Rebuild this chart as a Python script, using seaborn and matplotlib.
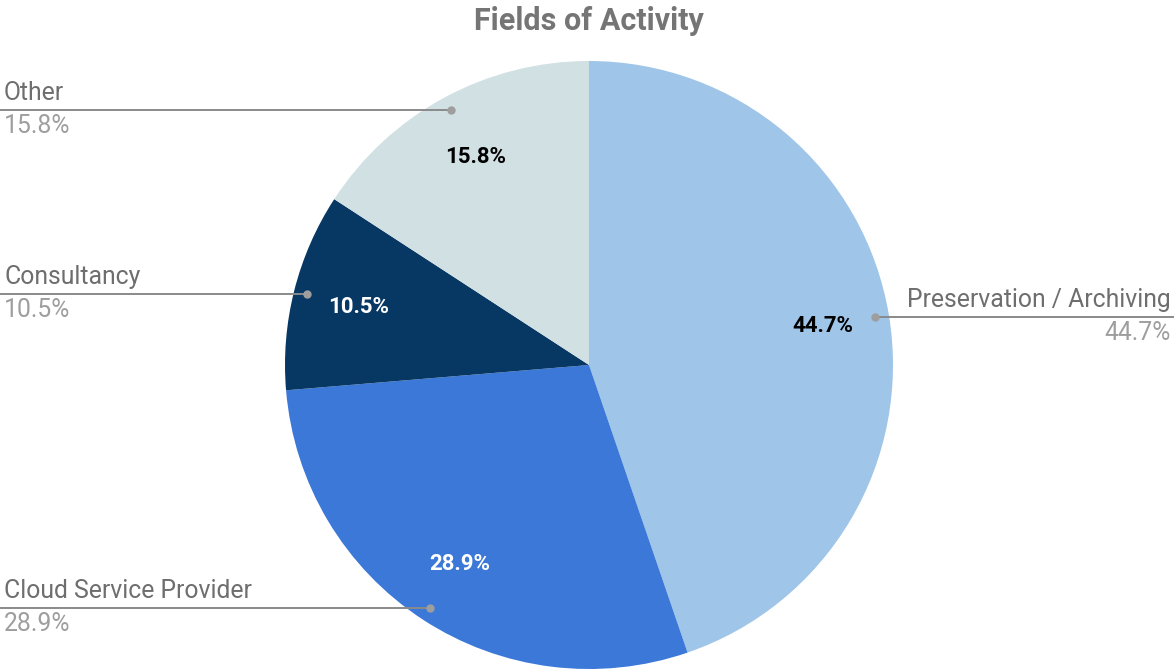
import numpy as np
import matplotlib
matplotlib.use("Agg")
import matplotlib.pyplot as plt
import seaborn as sns

# data
fields = ["Preservation / Archiving", "Cloud Service Provider", "Consultancy", "Other"]
shares = [44.7, 28.9, 10.5, 15.8]
colors = ["#9fc5e8", "#3c78d8", "#073763", "#d0e0e3"]
inner_text_colors = ["#000000", "#ffffff", "#ffffff", "#000000"]

sns.set_style("white")
plt.rcParams["font.family"] = ["Roboto", "DejaVu Sans"]

W, H = 1174, 670
fig = plt.figure(figsize=(W / 100, H / 100), dpi=100)
ax = fig.add_axes([0, 0, 1, 1])

cx, cy, R = 589, H - 365, 304
wedges, _ = ax.pie(shares, colors=colors, startangle=90, counterclock=False,
                   center=(cx, cy), radius=R, frame=True,
                   wedgeprops=dict(linewidth=0))
ax.set_xlim(0, W)
ax.set_ylim(0, H)
ax.set_aspect("equal")
ax.axis("off")

total = sum(shares)
for w, name, val, tc in zip(wedges, fields, shares, inner_text_colors):
    mid = np.deg2rad((w.theta1 + w.theta2) / 2)
    # percentage inside the slice
    ix, iy = cx + 0.78 * R * np.cos(mid), cy + 0.78 * R * np.sin(mid)
    ax.text(ix, iy, f"{val / total * 100:.1f}%", ha="center", va="center",
            fontsize=16, fontweight="bold", color=tc)
    # leader dot and line out to the figure edge
    dx, dy = cx + 0.955 * R * np.cos(mid), cy + 0.955 * R * np.sin(mid)
    ax.plot([dx], [dy], "o", color="#9e9e9e", markersize=5, zorder=5)
    if np.cos(mid) < 0:
        ax.plot([0, dx], [dy, dy], color="#8a8a8a", linewidth=1.4, zorder=4)
        ax.text(4, dy + 5, name, ha="left", va="bottom", fontsize=17.8, color="#6e6e6e")
        ax.text(4, dy - 4, f"{val:.1f}%", ha="left", va="top", fontsize=17.8, color="#9e9e9e")
    else:
        ax.plot([dx, W], [dy, dy], color="#8a8a8a", linewidth=1.4, zorder=4)
        ax.text(W - 3, dy + 5, name, ha="right", va="bottom", fontsize=17.8, color="#6e6e6e")
        ax.text(W - 3, dy - 4, f"{val:.1f}%", ha="right", va="top", fontsize=17.8, color="#9e9e9e")

ax.text(589, H - 21, "Fields of Activity", ha="center", va="center",
        fontsize=22, fontweight="bold", color="#757575")

fig.savefig("out.png", dpi=100)
